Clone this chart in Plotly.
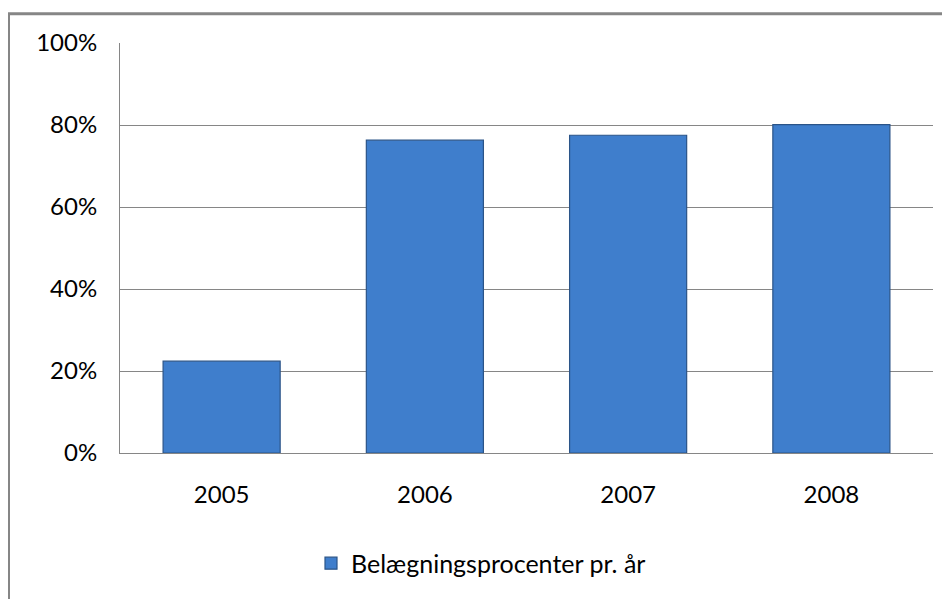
import plotly.graph_objects as go

years = ["2005", "2006", "2007", "2008"]
occupancy = [0.224, 0.763, 0.775, 0.801]
series_name = "Belægningsprocenter pr. år"
y_ticks = [0, 0.2, 0.4, 0.6, 0.8, 1.0]
y_tick_labels = ["0%", "20%", "40%", "60%", "80%", "100%"]

# page has an 8px body margin, so figure coords = screen coords - 8
OFF = 8
W, H = 950 - OFF, 599 - OFF
ml, mt = 120 - OFF, 43 - OFF
plot_right, plot_bottom = 933 - OFF, 455 - OFF
mr, mb = W - plot_right, H - plot_bottom
pw = W - ml - mr
ph = H - mt - mb

fig = go.Figure()
fig.add_trace(go.Bar(
    x=years, y=occupancy, name=series_name,
    marker=dict(color="#3f7ecc", line=dict(color="#2b5488", width=1.2)),
    showlegend=True,
))

font_family = "Lato, 'Open Sans', sans-serif"
fs = 24

fig.update_layout(
    width=W, height=H,
    margin=dict(l=ml, r=mr, t=mt, b=mb),
    paper_bgcolor="white", plot_bgcolor="white",
    bargap=0.424,
    font=dict(family=font_family, size=fs, color="#000000"),
    showlegend=True,
    legend=dict(
        orientation="h",
        x=(311 - OFF - ml) / pw, xanchor="left",
        y=(plot_bottom - (566 - OFF)) / ph, yanchor="middle",
        font=dict(size=25, family=font_family),
        bgcolor="rgba(0,0,0,0)",
    ),
    xaxis=dict(
        showgrid=False, showline=True, linecolor="#868686", linewidth=1,
        ticks="", ticklabelstandoff=20, tickfont=dict(size=fs),
    ),
    yaxis=dict(
        range=[0, 1.0], tickvals=y_ticks, ticktext=y_tick_labels,
        showgrid=True, gridcolor="#868686", gridwidth=1,
        showline=True, linecolor="#868686", linewidth=1,
        ticks="", ticklabelstandoff=17, tickfont=dict(size=fs),
        zeroline=False,
    ),
    shapes=[dict(
        type="rect", xref="paper", yref="paper",
        x0=(0.5 - ml) / pw, x1=(W + 20 - ml) / pw,
        y0=(plot_bottom - (H + 20)) / ph, y1=(plot_bottom - 5.5) / ph,
        line=dict(color="#868686", width=3), fillcolor="rgba(0,0,0,0)",
        layer="below",
    )],
)

fig.write_html("out.html")
